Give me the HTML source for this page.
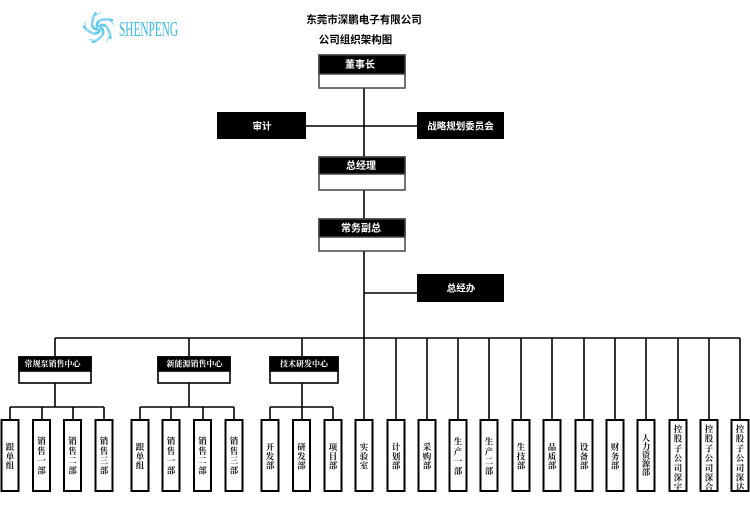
<!DOCTYPE html>
<html>
<head>
<meta charset="utf-8">
<style>
html,body{margin:0;padding:0;background:#fff;}
body{width:750px;height:511px;overflow:hidden;}
svg{display:block;}
.t{font-family:"Liberation Sans","Noto Sans CJK SC",sans-serif;font-weight:bold;fill:#fff;text-anchor:middle;}
.g{font-family:"Liberation Serif","Noto Serif CJK SC",serif;font-weight:bold;fill:#fff;text-anchor:middle;font-size:8px;}
.l{font-family:"Liberation Serif","Noto Serif CJK SC",serif;font-weight:bold;fill:#111;text-anchor:middle;font-size:8.5px;}
.h{font-family:"Liberation Sans","Noto Sans CJK SC",sans-serif;font-weight:bold;fill:#000;text-anchor:middle;font-size:10.5px;}
</style>
</head>
<body>
<svg width="750" height="511" viewBox="0 0 750 511" xmlns="http://www.w3.org/2000/svg">
<!-- logo -->
<g transform="translate(99,28)" fill="none" stroke-linecap="round">
  <g stroke="#5cc6ee" stroke-width="2.4">
    <path d="M2,0 C6,2 6,9 -6,14" transform="rotate(0)"/>
    <path d="M2,0 C6,2 6,9 -6,14" transform="rotate(72)"/>
    <path d="M2,0 C6,2 6,9 -6,14" transform="rotate(144)"/>
    <path d="M2,0 C6,2 6,9 -6,14" transform="rotate(216)"/>
    <path d="M2,0 C6,2 6,9 -6,14" transform="rotate(288)"/>
  </g>
  <g stroke="#9adcf5" stroke-width="1.3">
    <path d="M4,1 C9,4 9,11 -1,15" transform="rotate(36)"/>
    <path d="M4,1 C9,4 9,11 -1,15" transform="rotate(108)"/>
    <path d="M4,1 C9,4 9,11 -1,15" transform="rotate(180)"/>
    <path d="M4,1 C9,4 9,11 -1,15" transform="rotate(252)"/>
    <path d="M4,1 C9,4 9,11 -1,15" transform="rotate(324)"/>
  </g>
</g>
<text x="119" y="36" font-family="Liberation Serif, serif" font-size="21" fill="#33bbe8" textLength="59" lengthAdjust="spacingAndGlyphs">SHENPENG</text>

<!-- titles -->
<text class="h" x="364" y="23">东莞市深鹏电子有限公司</text>
<text class="h" x="355.5" y="43">公司组织架构图</text>

<!-- connectors -->
<g stroke="#000" stroke-width="1.6" fill="none">
  <line x1="364" y1="88" x2="364" y2="420"/>
  <line x1="306" y1="126" x2="417" y2="126"/>
  <line x1="364" y1="293" x2="417" y2="293"/>
  <line x1="55" y1="338" x2="740" y2="338"/>
  <line x1="55" y1="338" x2="55" y2="357"/>
  <line x1="189" y1="338" x2="189" y2="357"/>
  <line x1="302" y1="338" x2="302" y2="357"/>
  <line x1="396" y1="338" x2="396" y2="420"/>
  <line x1="427" y1="338" x2="427" y2="420"/>
  <line x1="458" y1="338" x2="458" y2="420"/>
  <line x1="489" y1="338" x2="489" y2="420"/>
  <line x1="521" y1="338" x2="521" y2="420"/>
  <line x1="552" y1="338" x2="552" y2="420"/>
  <line x1="584" y1="338" x2="584" y2="420"/>
  <line x1="615" y1="338" x2="615" y2="420"/>
  <line x1="646" y1="338" x2="646" y2="420"/>
  <line x1="678" y1="338" x2="678" y2="420"/>
  <line x1="709" y1="338" x2="709" y2="420"/>
  <line x1="740" y1="338" x2="740" y2="420"/>
  <line x1="55" y1="383" x2="55" y2="407"/>
  <line x1="189" y1="383" x2="189" y2="407"/>
  <line x1="302" y1="383" x2="302" y2="407"/>
  <line x1="10" y1="407" x2="104" y2="407"/>
  <line x1="140" y1="407" x2="234" y2="407"/>
  <line x1="270" y1="407" x2="333" y2="407"/>
  <line x1="10" y1="407" x2="10" y2="420"/>
  <line x1="42" y1="407" x2="42" y2="420"/>
  <line x1="73" y1="407" x2="73" y2="420"/>
  <line x1="104" y1="407" x2="104" y2="420"/>
  <line x1="140" y1="407" x2="140" y2="420"/>
  <line x1="171" y1="407" x2="171" y2="420"/>
  <line x1="203" y1="407" x2="203" y2="420"/>
  <line x1="234" y1="407" x2="234" y2="420"/>
  <line x1="270" y1="407" x2="270" y2="420"/>
  <line x1="302" y1="407" x2="302" y2="420"/>
  <line x1="333" y1="407" x2="333" y2="420"/>
</g>

<!-- top boxes -->
<g stroke="#444" stroke-width="1.5">
  <rect x="319" y="55" width="86" height="33" fill="#fff"/>
  <rect x="319" y="55" width="86" height="19" fill="#000"/>
  <rect x="319" y="157" width="86" height="33" fill="#fff"/>
  <rect x="319" y="157" width="86" height="17" fill="#000"/>
  <rect x="319" y="219" width="86" height="32" fill="#fff"/>
  <rect x="319" y="219" width="86" height="18" fill="#000"/>
</g>
<rect x="217" y="112" width="89" height="27" fill="#000"/>
<rect x="417" y="112" width="87" height="27" fill="#000"/>
<rect x="417" y="274" width="87" height="28" fill="#000"/>

<text class="t" x="360" y="68" font-size="10">董事长</text>
<text class="t" x="262" y="129.5" font-size="9.5">审计</text>
<text class="t" x="460.5" y="129.5" font-size="9.5">战略规划委员会</text>
<text class="t" x="361" y="169" font-size="10">总经理</text>
<text class="t" x="361" y="231.5" font-size="10">常务副总</text>
<text class="t" x="461" y="291.5" font-size="9.5">总经办</text>

<!-- group boxes -->
<g stroke="#000" stroke-width="1.6">
  <rect x="19" y="357" width="72" height="26" fill="#fff"/>
  <rect x="19" y="357" width="72" height="14" fill="#000"/>
  <rect x="158" y="357" width="72" height="26" fill="#fff"/>
  <rect x="158" y="357" width="72" height="14" fill="#000"/>
  <rect x="270" y="357" width="68" height="26" fill="#fff"/>
  <rect x="270" y="357" width="68" height="14" fill="#000"/>
</g>
<text class="g" x="52.5" y="366.5">常规泵销售中心</text>
<text class="g" x="194.5" y="366.5">新能源销售中心</text>
<text class="g" x="304" y="366.5">技术研发中心</text>

<!-- leaf boxes -->
<g stroke="#000" stroke-width="2" fill="#fff">
  <rect x="1.5" y="420" width="17" height="71"/>
  <rect x="33" y="420" width="17" height="71"/>
  <rect x="64" y="420" width="17" height="71"/>
  <rect x="95.5" y="420" width="17" height="71"/>
  <rect x="131.5" y="420" width="17" height="71"/>
  <rect x="162.5" y="420" width="17" height="71"/>
  <rect x="194" y="420" width="17" height="71"/>
  <rect x="225.5" y="420" width="17" height="71"/>
  <rect x="261.5" y="420" width="17" height="71"/>
  <rect x="293" y="420" width="17" height="71"/>
  <rect x="324.5" y="420" width="17" height="71"/>
  <rect x="355.5" y="420" width="17" height="71"/>
  <rect x="387.5" y="420" width="17" height="71"/>
  <rect x="418.5" y="420" width="17" height="71"/>
  <rect x="449.5" y="420" width="17" height="71"/>
  <rect x="480.5" y="420" width="17" height="71"/>
  <rect x="512.5" y="420" width="17" height="71"/>
  <rect x="543.5" y="420" width="17" height="71"/>
  <rect x="575.5" y="420" width="17" height="71"/>
  <rect x="606.5" y="420" width="17" height="71"/>
  <rect x="637.5" y="420" width="17" height="71"/>
  <rect x="669.5" y="420" width="17" height="71"/>
  <rect x="700.5" y="420" width="17" height="71"/>
  <rect x="731.5" y="420" width="17" height="71"/>
</g>

<!-- leaf labels -->
<text class="l" y="450"><tspan x="10" dy="0">跟</tspan><tspan x="10" dy="9.3">单</tspan><tspan x="10" dy="9.3">组</tspan></text>
<text class="l" y="444"><tspan x="41.5" dy="0">销</tspan><tspan x="41.5" dy="9.8">售</tspan><tspan x="41.5" dy="9.8">一</tspan><tspan x="41.5" dy="9.8">部</tspan></text>
<text class="l" y="444"><tspan x="72.5" dy="0">销</tspan><tspan x="72.5" dy="9.8">售</tspan><tspan x="72.5" dy="9.8">二</tspan><tspan x="72.5" dy="9.8">部</tspan></text>
<text class="l" y="444"><tspan x="104" dy="0">销</tspan><tspan x="104" dy="9.8">售</tspan><tspan x="104" dy="9.8">三</tspan><tspan x="104" dy="9.8">部</tspan></text>

<text class="l" y="450"><tspan x="140" dy="0">跟</tspan><tspan x="140" dy="9.3">单</tspan><tspan x="140" dy="9.3">组</tspan></text>
<text class="l" y="444"><tspan x="171" dy="0">销</tspan><tspan x="171" dy="9.8">售</tspan><tspan x="171" dy="9.8">一</tspan><tspan x="171" dy="9.8">部</tspan></text>
<text class="l" y="444"><tspan x="202.5" dy="0">销</tspan><tspan x="202.5" dy="9.8">售</tspan><tspan x="202.5" dy="9.8">二</tspan><tspan x="202.5" dy="9.8">部</tspan></text>
<text class="l" y="444"><tspan x="234" dy="0">销</tspan><tspan x="234" dy="9.8">售</tspan><tspan x="234" dy="9.8">三</tspan><tspan x="234" dy="9.8">部</tspan></text>

<text class="l" y="450"><tspan x="270" dy="0">开</tspan><tspan x="270" dy="9.3">发</tspan><tspan x="270" dy="9.3">部</tspan></text>
<text class="l" y="450"><tspan x="301.5" dy="0">研</tspan><tspan x="301.5" dy="9.3">发</tspan><tspan x="301.5" dy="9.3">部</tspan></text>
<text class="l" y="450"><tspan x="333" dy="0">项</tspan><tspan x="333" dy="9.3">目</tspan><tspan x="333" dy="9.3">部</tspan></text>

<text class="l" y="450"><tspan x="364" dy="0">实</tspan><tspan x="364" dy="9.3">验</tspan><tspan x="364" dy="9.3">室</tspan></text>
<text class="l" y="450"><tspan x="396" dy="0">计</tspan><tspan x="396" dy="9.3">划</tspan><tspan x="396" dy="9.3">部</tspan></text>
<text class="l" y="450"><tspan x="427" dy="0">采</tspan><tspan x="427" dy="9.3">购</tspan><tspan x="427" dy="9.3">部</tspan></text>
<text class="l" y="444.5"><tspan x="458" dy="0">生</tspan><tspan x="458" dy="9.8">产</tspan><tspan x="458" dy="9.8">一</tspan><tspan x="458" dy="9.8">部</tspan></text>
<text class="l" y="444.5"><tspan x="489" dy="0">生</tspan><tspan x="489" dy="9.8">产</tspan><tspan x="489" dy="9.8">二</tspan><tspan x="489" dy="9.8">部</tspan></text>
<text class="l" y="450"><tspan x="521" dy="0">生</tspan><tspan x="521" dy="9.3">技</tspan><tspan x="521" dy="9.3">部</tspan></text>
<text class="l" y="450"><tspan x="552" dy="0">品</tspan><tspan x="552" dy="9.3">质</tspan><tspan x="552" dy="9.3">部</tspan></text>
<text class="l" y="450"><tspan x="584" dy="0">设</tspan><tspan x="584" dy="9.3">备</tspan><tspan x="584" dy="9.3">部</tspan></text>
<text class="l" y="450"><tspan x="615" dy="0">财</tspan><tspan x="615" dy="9.3">务</tspan><tspan x="615" dy="9.3">部</tspan></text>
<text class="l" y="441.2"><tspan x="646" dy="0">人</tspan><tspan x="646" dy="8.5">力</tspan><tspan x="646" dy="8.5">资</tspan><tspan x="646" dy="8.5">源</tspan><tspan x="646" dy="8.5">部</tspan></text>
<text class="l" y="432"><tspan x="678" dy="0">控</tspan><tspan x="678" dy="9.7">股</tspan><tspan x="678" dy="9.7">子</tspan><tspan x="678" dy="9.7">公</tspan><tspan x="678" dy="9.7">司</tspan><tspan x="678" dy="9.7">深</tspan><tspan x="678" dy="9.7">宇</tspan></text>
<text class="l" y="432"><tspan x="709" dy="0">控</tspan><tspan x="709" dy="9.7">股</tspan><tspan x="709" dy="9.7">子</tspan><tspan x="709" dy="9.7">公</tspan><tspan x="709" dy="9.7">司</tspan><tspan x="709" dy="9.7">深</tspan><tspan x="709" dy="9.7">合</tspan></text>
<text class="l" y="432"><tspan x="740" dy="0">控</tspan><tspan x="740" dy="9.7">股</tspan><tspan x="740" dy="9.7">子</tspan><tspan x="740" dy="9.7">公</tspan><tspan x="740" dy="9.7">司</tspan><tspan x="740" dy="9.7">深</tspan><tspan x="740" dy="9.7">达</tspan></text>
</svg>
</body>
</html>
